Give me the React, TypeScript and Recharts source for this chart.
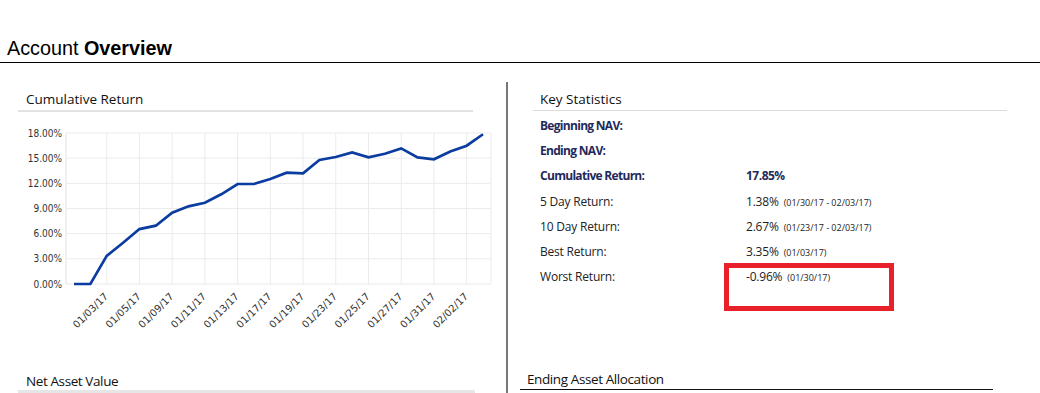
import React from 'react';
import { LineChart, Line, XAxis, YAxis, CartesianGrid } from 'recharts';

const dates = [
  '12/30/16', '01/02/17', '01/03/17', '01/04/17', '01/05/17', '01/06/17', '01/09/17',
  '01/10/17', '01/11/17', '01/12/17', '01/13/17', '01/16/17', '01/17/17', '01/18/17',
  '01/19/17', '01/20/17', '01/23/17', '01/24/17', '01/25/17', '01/26/17', '01/27/17',
  '01/30/17', '01/31/17', '02/01/17', '02/02/17', '02/03/17',
];
const cumulativeReturn = [
  0, 0, 3.35, 4.92, 6.55, 6.95, 8.5, 9.26, 9.69, 10.69, 11.92, 11.92, 12.51, 13.27,
  13.19, 14.78, 15.14, 15.69, 15.1, 15.53, 16.17, 15.1, 14.86, 15.8, 16.49, 17.85,
];
const xTicks = [
  '01/03/17', '01/05/17', '01/09/17', '01/11/17', '01/13/17', '01/17/17', '01/19/17',
  '01/23/17', '01/25/17', '01/27/17', '01/31/17', '02/02/17',
];
const yTicks = [0, 3, 6, 9, 12, 15, 18];

const statLabels = [
  'Beginning NAV:', 'Ending NAV:', 'Cumulative Return:', '5 Day Return:',
  '10 Day Return:', 'Best Return:', 'Worst Return:',
];
const statValues = ['', '', '17.85%', '1.38%', '2.67%', '3.35%', '-0.96%'];
const statDates = [
  '', '', '', '(01/30/17 - 02/03/17)', '(01/23/17 - 02/03/17)', '(01/03/17)', '(01/30/17)',
];
const boldRows = 3;

const chartData = dates.map((date, i) => ({ date, value: cumulativeReturn[i] }));

const sans = "'Open Sans', 'Noto Sans', sans-serif";
const axisFont = "'DejaVu Sans Condensed', 'DejaVu Sans', sans-serif";
const gridColor = '#ebebeb';

const DateTick = (props: any) => {
  const { x, y, payload } = props;
  return (
    <g transform={`translate(${x + 2},${y + 5})`}>
      <text textAnchor="end" transform="rotate(-45)" fill="#333" fontSize={10} fontFamily="'DejaVu Sans', sans-serif">
        {payload.value}
      </text>
    </g>
  );
};

const abs = (left: number, top: number, extra: React.CSSProperties = {}): React.CSSProperties => ({
  position: 'absolute', left, top, ...extra,
});

const App = () => {
  return (
    <div style={{ position: 'absolute', left: 0, top: 0, width: 1040, height: 393, background: '#fff', overflow: 'hidden' }}>
      <div style={abs(7, 38, { fontFamily: "'Liberation Sans', Arial, sans-serif", fontSize: 19.8, lineHeight: '20px', color: '#000' })}>
        Account <b>Overview</b>
      </div>
      <div style={abs(0, 62, { width: 1040, height: 1, background: '#000' })} />

      <div style={abs(26, 89, { fontFamily: sans, fontSize: 13.5, lineHeight: '20px', color: '#111' })}>Cumulative Return</div>
      <div style={abs(18, 110, { width: 455, height: 2, background: '#e2e2e2' })} />

      <div style={abs(506, 82, { width: 2, height: 311, background: '#777' })} />

      <div style={abs(0, 110)}>
        <LineChart width={510} height={230} data={chartData} margin={{ top: 23, right: 19, bottom: 6, left: 6 }}>
          <CartesianGrid stroke={gridColor} />
          <XAxis
            dataKey="date"
            ticks={xTicks}
            interval={0}
            padding={{ left: 8, right: 8 }}
            height={50}
            axisLine={false}
            tickLine={false}
            tick={<DateTick />}
          />
          <YAxis
            domain={[0, 18]}
            ticks={yTicks}
            width={60}
            tickSize={0}
            tickMargin={4}
            tickLine={false}
            axisLine={{ stroke: gridColor }}
            tick={{ fill: '#333', fontSize: 10, fontFamily: axisFont }}
            tickFormatter={(v: number) => `${v.toFixed(2)}%`}
          />
          <YAxis yAxisId="frame" orientation="right" domain={[0, 18]} width={0} tick={false} tickLine={false} axisLine={{ stroke: gridColor }} />
          <Line type="linear" dataKey="value" stroke="#0b3c9f" strokeWidth={2.7} dot={false} isAnimationActive={false} />
        </LineChart>
      </div>

      <div style={abs(540, 89, { fontFamily: sans, fontSize: 13.5, lineHeight: '20px', color: '#111' })}>Key Statistics</div>
      <div style={abs(533, 110, { width: 474, height: 1, background: '#dcdcdc' })} />

      {statLabels.map((label, i) => {
        const center = 126 + i * 25.2;
        const bold = i < boldRows;
        return (
          <React.Fragment key={label}>
            <div style={abs(540, center - 10, {
              fontFamily: sans, fontSize: 12, lineHeight: '20px',
              fontWeight: bold ? 700 : 400, color: bold ? '#1f2a5c' : '#222',
              letterSpacing: bold ? -0.7 : -0.2,
            })}>{label}</div>
            <div style={abs(746, center - 10, {
              fontFamily: sans, fontSize: 12, lineHeight: '20px', whiteSpace: 'nowrap',
              fontWeight: bold ? 700 : 400, color: bold ? '#1f2a5c' : '#222',
              letterSpacing: bold ? -0.5 : -0.2,
            })}>
              {statValues[i]}
              {statDates[i] && <span style={{ fontSize: 9, marginLeft: 5, letterSpacing: 0 }}>{statDates[i]}</span>}
            </div>
          </React.Fragment>
        );
      })}

      <div style={abs(724, 263, { width: 160, height: 38, border: '5px solid #e8202a' })} />

      <div style={abs(26, 371, { fontFamily: sans, fontSize: 13.5, lineHeight: '20px', color: '#111', letterSpacing: -0.4 })}>Net Asset Value</div>
      <div style={abs(18, 390, { width: 457, height: 3, background: '#e6e6e6' })} />

      <div style={abs(527, 369, { fontFamily: sans, fontSize: 13.5, lineHeight: '20px', color: '#111', letterSpacing: -0.4 })}>Ending Asset Allocation</div>
      <div style={abs(520, 389, { width: 473, height: 1, background: '#111' })} />
    </div>
  );
};

export default App;
